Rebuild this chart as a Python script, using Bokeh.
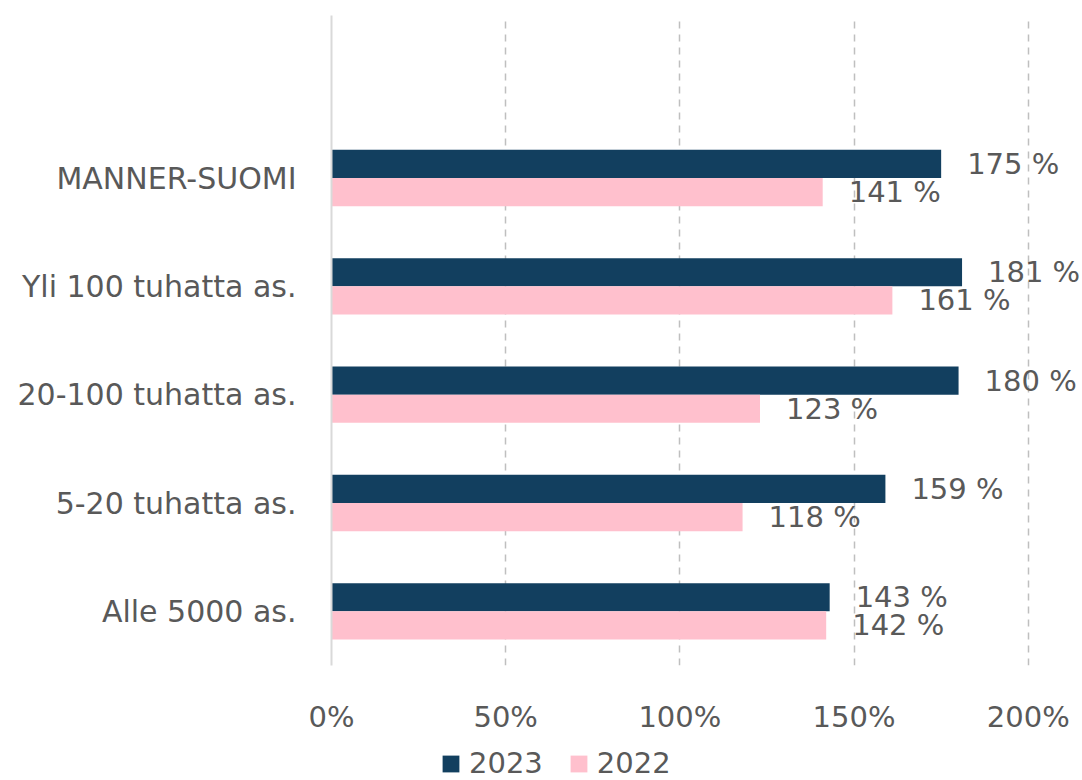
from bokeh.plotting import figure
from bokeh.layouts import column
from bokeh.models import FactorRange, Range1d, FixedTicker, Legend, LegendItem, ColumnDataSource
from bokeh.transform import dodge
from bokeh.embed import file_html
from bokeh.resources import INLINE
from bokeh.core.properties import value

categories = ["Alle 5000 as.", "5-20 tuhatta as.", "20-100 tuhatta as.",
              "Yli 100 tuhatta as.", "MANNER-SUOMI"]
values_2023 = [143, 159, 180, 181, 175]
values_2022 = [142, 118, 123, 161, 141]
series_names = ["2023", "2022"]
x_ticks = [0, 50, 100, 150, 200]
x_tick_labels = ["0%", "50%", "100%", "150%", "200%"]

FONT = "DejaVu Sans"
TXT = "#595959"
C23 = "#123f5f"
C22 = "#ffc0cd"
FS = "29px"

src = ColumnDataSource(dict(
    cat=categories,
    v23=values_2023,
    v22=values_2022,
    l23=[f"{v} %" for v in values_2023],
    l22=[f"{v} %" for v in values_2022],
))

factors = categories + [" "]

p = figure(width=1082, height=736, output_backend="svg", toolbar_location=None,
           y_range=FactorRange(factors=factors, range_padding=0),
           x_range=Range1d(0, 215),
           min_border_left=331, min_border_right=2, min_border_top=15, min_border_bottom=70)
p.outline_line_color = None
p.background_fill_color = "white"
p.border_fill_color = "white"

r23 = p.hbar(y=dodge("cat", 0.13, range=p.y_range), left=0, right="v23", height=0.26,
             source=src, fill_color=C23, line_color=None)
r22 = p.hbar(y=dodge("cat", -0.13, range=p.y_range), left=0, right="v22", height=0.26,
             source=src, fill_color=C22, line_color=None)

p.text(x="v23", y=dodge("cat", 0.13, range=p.y_range), text="l23", source=src,
       x_offset=26, text_align="left", text_baseline="middle",
       text_font=value(FONT), text_font_size=value(FS), text_color=TXT)
p.text(x="v22", y=dodge("cat", -0.13, range=p.y_range), text="l22", source=src,
       x_offset=26, text_align="left", text_baseline="middle",
       text_font=value(FONT), text_font_size=value(FS), text_color=TXT)

# x axis
p.xaxis.ticker = FixedTicker(ticks=x_ticks)
p.xaxis.major_label_overrides = {t: l for t, l in zip(x_ticks, x_tick_labels)}
p.xaxis.axis_line_color = None
p.xaxis.major_tick_line_color = None
p.xaxis.minor_tick_line_color = None
p.xaxis.major_label_standoff = 28
p.xaxis.major_label_text_font = FONT
p.xaxis.major_label_text_font_size = FS
p.xaxis.major_label_text_color = TXT

# y axis
p.yaxis.axis_line_color = "#d9d9d9"
p.yaxis.axis_line_width = 2
p.yaxis.major_tick_line_color = None
p.yaxis.minor_tick_line_color = None
p.yaxis.major_label_standoff = 29
p.yaxis.major_label_text_font = FONT
p.yaxis.major_label_text_font_size = "30px"
p.yaxis.major_label_text_color = TXT

# grid
p.ygrid.visible = False
p.xgrid.ticker = FixedTicker(ticks=x_ticks[1:])
p.xgrid.grid_line_color = "#bfbfbf"
p.xgrid.grid_line_dash = "7 6"
p.xgrid.grid_line_width = 1.5

# legend strip below the chart (its key bars have zero height and lie out of view)
pl = figure(width=1082, height=44, output_backend="svg", toolbar_location=None,
            x_range=Range1d(-20, -10), y_range=FactorRange(factors=factors),
            x_axis_type=None, y_axis_type=None, min_border=0)
pl.outline_line_color = None
pl.grid.visible = False
k23 = pl.hbar(y="cat", right="v23", left=0, height=0, source=src,
              fill_color=C23, line_color=None)
k22 = pl.hbar(y="cat", right="v22", left=0, height=0, source=src,
              fill_color=C22, line_color=None)

legend = Legend(items=[LegendItem(label=series_names[0], renderers=[k23]),
                       LegendItem(label=series_names[1], renderers=[k22])],
                orientation="horizontal", location=(109, 0),
                glyph_width=21, glyph_height=21, label_standoff=8, spacing=25,
                padding=0, margin=0, border_line_color=None, background_fill_alpha=0,
                label_text_font=FONT, label_text_font_size=FS, label_text_color=TXT)
pl.add_layout(legend, "center")

open("out.html", "w").write(file_html(column(p, pl, spacing=0), INLINE))
